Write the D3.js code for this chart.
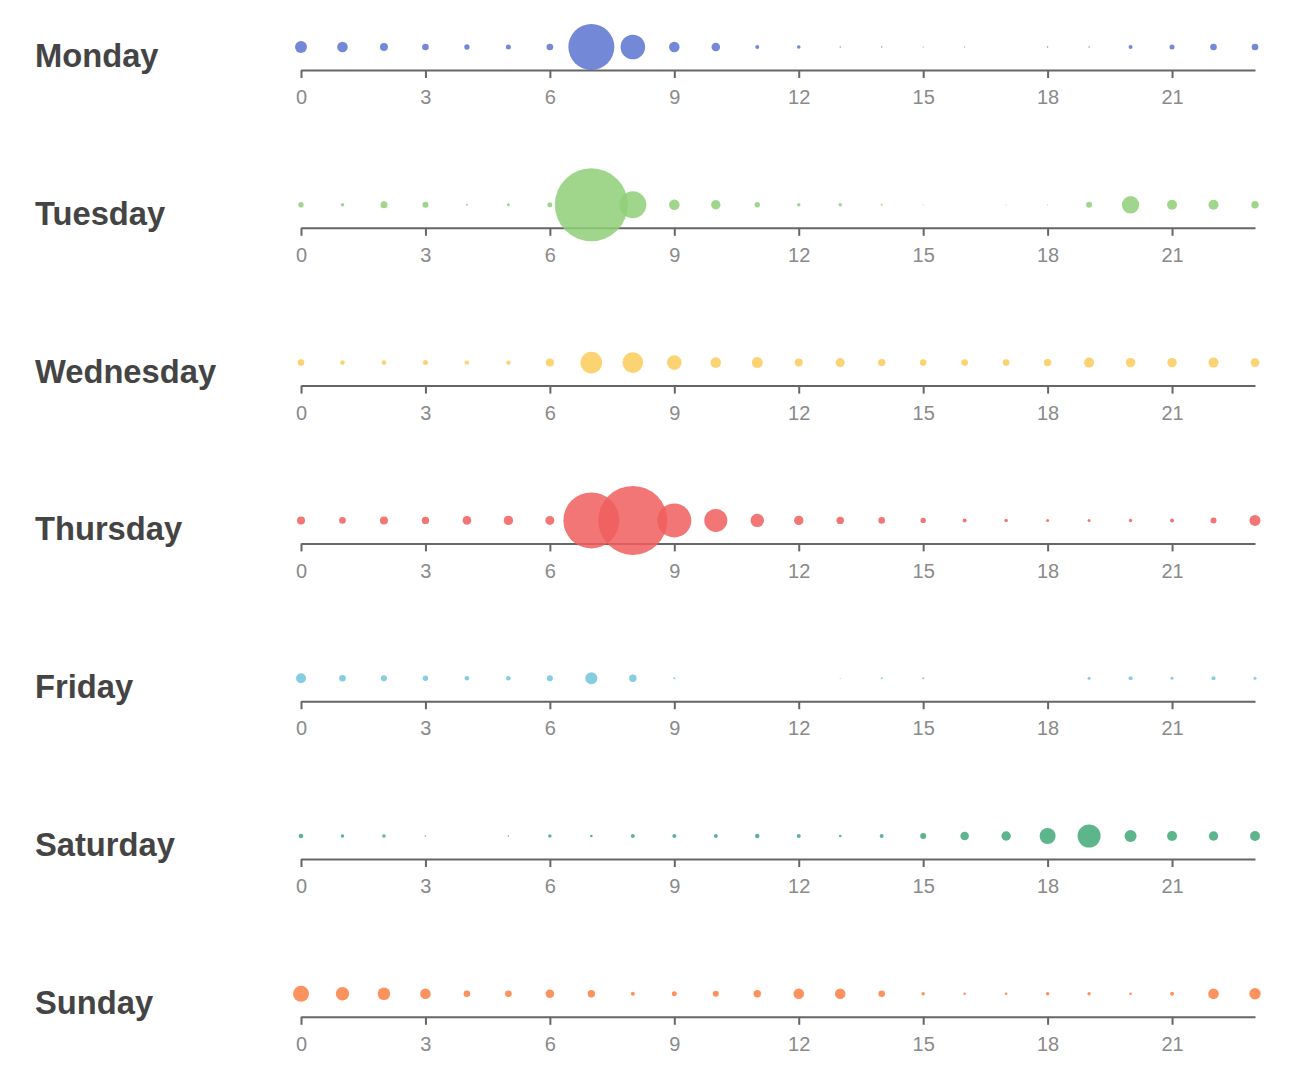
<!DOCTYPE html>
<html>
<head>
<meta charset="utf-8">
<script src="https://cdn.jsdelivr.net/npm/d3@7"></script>
<style>
  body { margin: 0; background: #fff; }
  .day-label { font-family: "Liberation Sans", Arial, sans-serif; font-weight: bold; font-size: 32.7px; fill: #444; }
  .axis text { font-family: "Liberation Sans", Arial, sans-serif; font-size: 20px; fill: #8a8a8a; }
  .axis path, .axis line { stroke: #666; stroke-width: 2; }
</style>
</head>
<body>
<div id="chart"></div>
<script>
/* Punchcard: activity by hour for each day of the week */

const days = ["Monday", "Tuesday", "Wednesday", "Thursday", "Friday", "Saturday", "Sunday"];
const hours = d3.range(24);
const hourTicks = [0, 3, 6, 9, 12, 15, 18, 21];

// one value per hour (0..23)
const monday    = [144, 112, 64, 44, 28, 25, 44, 2116, 605, 112, 74, 16, 13, 2, 2, 1, 1, 0, 2, 2, 16, 25, 44, 44];
const tuesday   = [29, 12, 49, 36, 4, 9, 25, 5329, 729, 112, 88, 29, 12, 12, 4, 1, 0, 1, 1, 36, 303, 100, 100, 55];
const wednesday = [44, 21, 21, 25, 19, 19, 64, 467, 424, 213, 112, 121, 64, 81, 55, 44, 44, 44, 55, 100, 88, 88, 100, 74];
const thursday  = [64, 44, 64, 55, 74, 88, 81, 3136, 4761, 1156, 529, 180, 88, 55, 44, 29, 16, 12, 9, 9, 12, 16, 36, 121];
const friday    = [100, 44, 36, 29, 21, 21, 36, 144, 55, 4, 0, 0, 0, 1, 4, 4, 0, 0, 0, 9, 16, 9, 16, 9];
const saturday  = [21, 12, 12, 2, 0, 2, 12, 7, 16, 16, 16, 21, 16, 7, 16, 36, 74, 88, 256, 529, 144, 100, 88, 100];
const sunday    = [256, 180, 159, 112, 44, 44, 74, 55, 16, 25, 36, 55, 112, 112, 44, 12, 7, 7, 12, 12, 7, 16, 112, 130];

const series = [monday, tuesday, wednesday, thursday, friday, saturday, sunday];
const colors = ["#5b74d1", "#8fcf78", "#fccb5b", "#f05e5e", "#71c4dd", "#41a877", "#fb8043"];

const width = 1292, height = 1090;
const margin = ({ top: 47, left: 301, right: 37 });
const rowStep = 157.8;

const svg = d3.select("#chart")
  .append("svg")
  .attr("width", width)
  .attr("height", height);

let x = d3.scaleLinear()
  .domain([0, 23])
  .range([margin.left, width - margin.right]);

let r = d3.scaleSqrt()
  .domain([0, d3.max(series, s => d3.max(s))])
  .range([0, 36.5]);

days.forEach((day, i) => {
  const cy = margin.top + i * rowStep;
  const g = svg.append("g");

  g.append("text")
    .attr("class", "day-label")
    .attr("x", 35)
    .attr("y", cy + 20)
    .text(day);

  /* axis under the row */
  g.append("g")
    .attr("class", "axis")
    .attr("transform", `translate(0,${cy + 23})`)
    .call(d3.axisBottom(x).tickValues(hourTicks).tickSize(8).tickSizeOuter(0).tickPadding(12))
    .call(a => a.selectAll("text").attr("dy", "0.71em"));

  /* one circle per hour */
  g.selectAll("circle")
    .data(hours)
    .join("circle")
    .attr("cx", h => x(h))
    .attr("cy", cy)
    .attr("r", h => r(series[i][h]))
    .attr("fill", colors[i])
    .attr("fill-opacity", 0.85);
});
</script>
</body>
</html>
